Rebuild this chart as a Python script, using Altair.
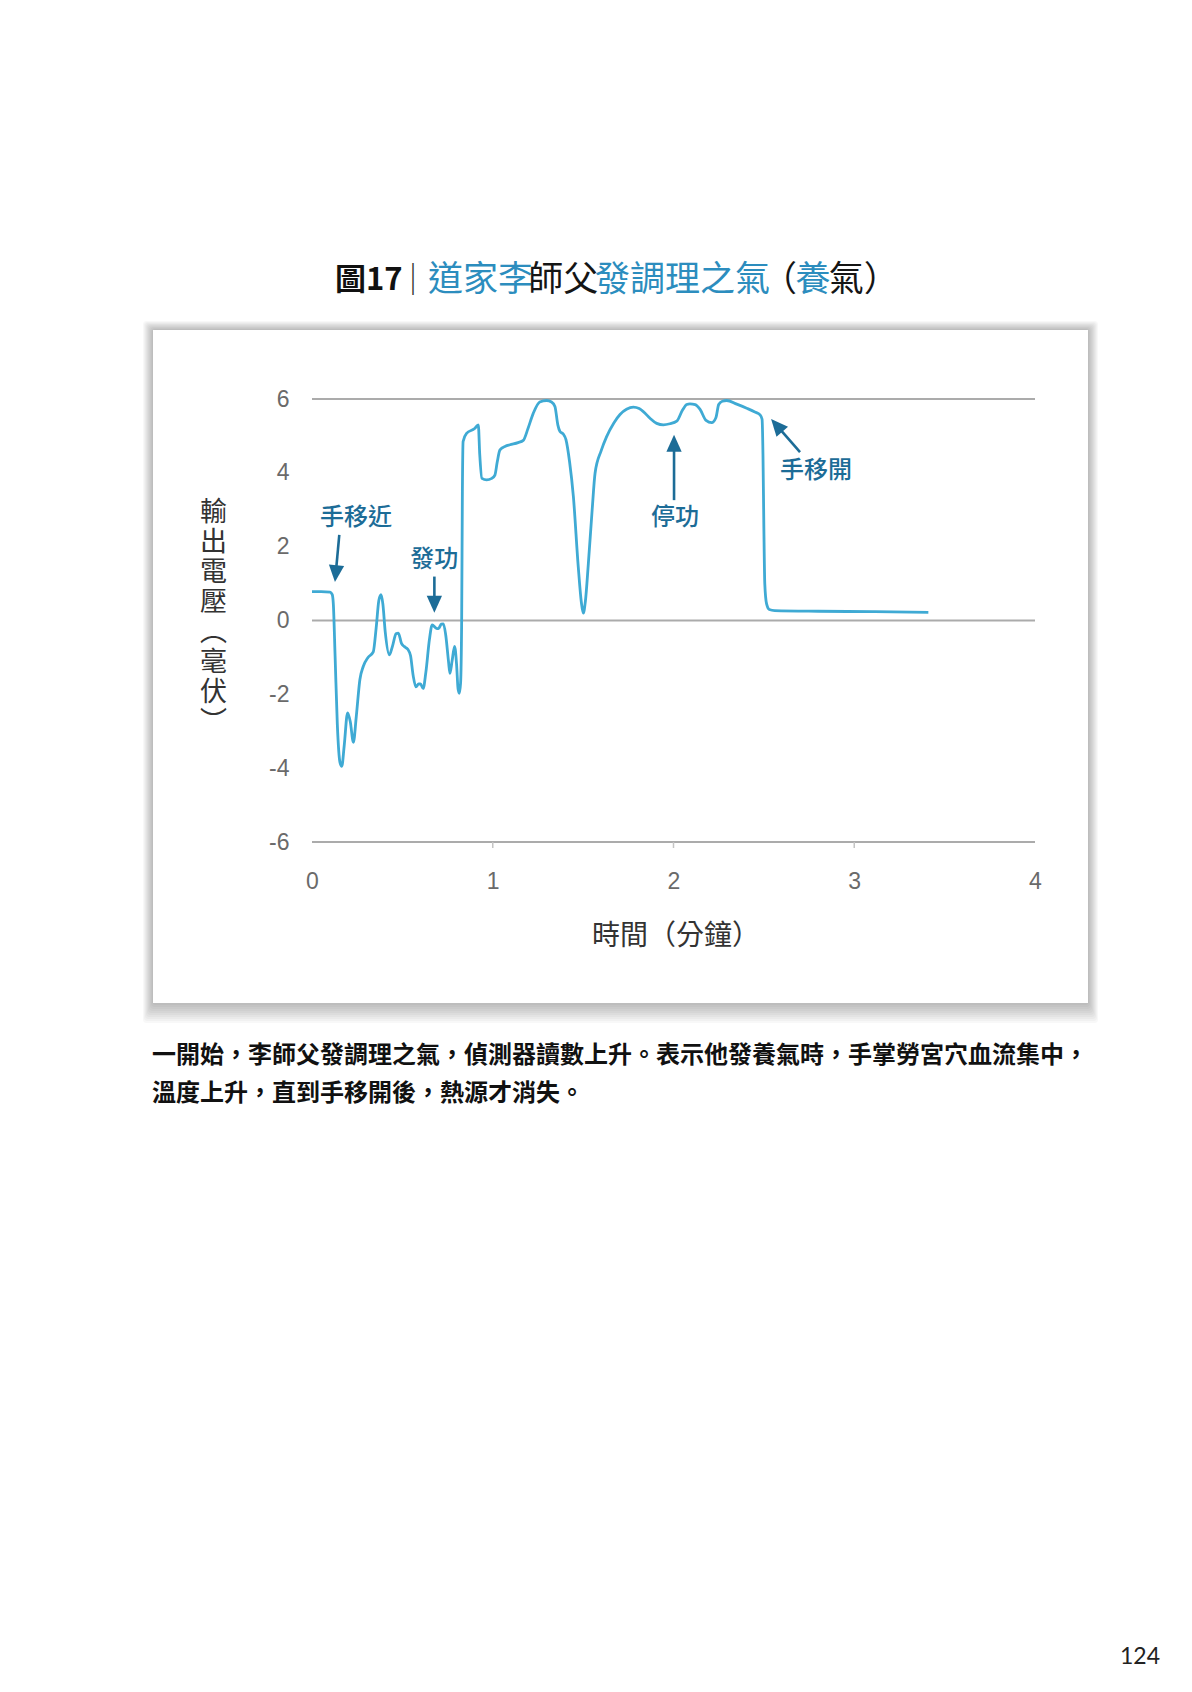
import math
import altair as alt
import pandas as pd

# ---------------- data ----------------
time_min = [0.0, 0.05, 0.10, 0.112, 0.118, 0.128, 0.14, 0.155, 0.165, 0.178, 0.197, 0.212, 0.229,
            0.245, 0.265, 0.284, 0.31, 0.339, 0.355, 0.37, 0.382, 0.392, 0.405, 0.428, 0.445,
            0.465, 0.478, 0.495, 0.509, 0.53, 0.545, 0.56, 0.575, 0.59, 0.60, 0.615, 0.63,
            0.65, 0.665, 0.685, 0.70, 0.715, 0.727, 0.74, 0.755, 0.763, 0.775, 0.789, 0.80,
            0.808, 0.815, 0.822, 0.828, 0.832, 0.836, 0.855, 0.90, 0.92, 0.928, 0.94, 0.966,
            0.995, 1.012, 1.025, 1.04, 1.07, 1.095, 1.14, 1.169, 1.195, 1.224, 1.26, 1.298,
            1.325, 1.344, 1.36, 1.372, 1.39, 1.405, 1.425, 1.446, 1.473, 1.49, 1.501, 1.512,
            1.529, 1.55, 1.566, 1.60, 1.63, 1.67, 1.704, 1.74, 1.778, 1.81, 1.833, 1.87,
            1.907, 1.944, 1.98, 2.018, 2.05, 2.073, 2.091, 2.12, 2.147, 2.18, 2.211, 2.235,
            2.25, 2.27, 2.294, 2.35, 2.405, 2.45, 2.479, 2.49, 2.495, 2.50, 2.505, 2.515,
            2.53, 2.56, 2.8, 3.1, 3.41]
voltage_mv = [0.78, 0.78, 0.77, 0.70, 0.45, -1.0, -2.8, -3.85, -3.95, -3.4, -2.5, -2.75, -3.3,
              -2.6, -1.6, -1.24, -1.0, -0.85, -0.2, 0.55, 0.70, 0.45, -0.3, -0.93, -0.7,
              -0.36, -0.34, -0.62, -0.70, -0.78, -0.95, -1.5, -1.8, -1.72, -1.72, -1.84, -1.4,
              -0.5, -0.12, -0.2, -0.22, -0.1, -0.09, -0.4, -1.1, -1.43, -1.1, -0.7, -1.2,
              -1.85, -1.97, -1.7, 0.0, 3.5, 4.85, 5.07, 5.2, 5.30, 4.5, 3.85, 3.81,
              3.85, 3.94, 4.3, 4.62, 4.72, 4.76, 4.82, 4.88, 5.2, 5.61, 5.92, 5.96,
              5.92, 5.8, 5.3, 5.12, 5.05, 4.9, 4.3, 3.36, 1.46, 0.5, 0.20, 0.5,
              1.55, 3.0, 3.99, 4.6, 4.98, 5.35, 5.58, 5.72, 5.78, 5.74, 5.66, 5.48,
              5.34, 5.30, 5.33, 5.40, 5.7, 5.85, 5.87, 5.85, 5.72, 5.42, 5.36, 5.5,
              5.85, 5.94, 5.96, 5.86, 5.75, 5.65, 5.57, 5.45, 4.5, 2.5, 1.0, 0.45,
              0.30, 0.27, 0.25, 0.24, 0.22]

x_ticks = [0, 1, 2, 3, 4]
x_tick_marks = [1, 2, 3]
y_ticks = [-6, -4, -2, 0, 2, 4, 6]
grid_levels = [6, 0, -6]

ann_text = ["手移近", "發功", "停功", "手移開"]
ann_x = [0.243, 0.677, 2.008, 2.788]
ann_y = [2.78, 1.64, 2.78, 4.06]
arrow_x0 = [0.151, 0.677, 2.003, 2.70]
arrow_y0 = [2.32, 1.19, 3.26, 4.56]
arrow_x1 = [0.127, 0.677, 2.003, 2.54]
arrow_y1 = [1.04, 0.21, 5.03, 5.46]

title_parts = [("道家李", "blue"), ("師父", "black"), ("發調理之氣", "blue"),
               ("（", "black"), ("養", "blue"), ("氣）", "black")]
caption_lines = ["一開始，李師父發調理之氣，偵測器讀數上升。表示他發養氣時，手掌勞宮穴血流集中，",
                 "溫度上升，直到手移開後，熱源才消失。"]
page_number = "124"

# ---------------- layout / style ----------------
W, H = 723, 443
PL, PT = 312, 399            # page position of plot area (top-left)
def px(X): return X - PL
def py(Y): return Y - PT

CJK = "Noto Sans CJK TC"
NUM = "Liberation Sans Narrow, Liberation Sans, Arial, sans-serif"
LINE_C = "#3FAAD4"
ANN_C = "#1C6C97"
TITLE_BLUE = "#2C8DBE"

xs = alt.Scale(domain=[0, 4], nice=False, zero=False)
ys = alt.Scale(domain=[-6, 6], nice=False, zero=False)

one = pd.DataFrame({"d": [0]})

# card with soft shadow
card_layers = []
for k in range(1, 11):
    card_layers.append(
        alt.Chart(one).mark_rect(color="#000000", opacity=0.026, cornerRadius=3).encode(
            x=alt.value(px(153 - k)), x2=alt.value(px(1088 + k)),
            y=alt.value(py(330 - k * 0.9)), y2=alt.value(py(1003 + k * 2.0)))
    )
card = alt.Chart(one).mark_rect(color="#ffffff").encode(
    x=alt.value(px(153)), x2=alt.value(px(1088)),
    y=alt.value(py(330)), y2=alt.value(py(1003)))

df = pd.DataFrame({"t": time_min, "v": voltage_mv})

grid = alt.Chart(pd.DataFrame({"level": grid_levels})).mark_rule(
    color="#ababab", strokeWidth=2.2).encode(y=alt.Y("level:Q", scale=ys))

tick_marks = alt.Chart(pd.DataFrame({"tx": x_tick_marks})).mark_rule(
    color="#c4c4c4", strokeWidth=1.5).encode(
    x=alt.X("tx:Q", scale=xs), y=alt.value(H), y2=alt.value(H + 6))

label_expr = "datum.value < 0 ? '-' + abs(datum.value) : '' + datum.value"

line = alt.Chart(df).mark_line(interpolate="monotone", color=LINE_C, strokeWidth=2.8).encode(
    x=alt.X("t:Q", scale=xs,
            axis=alt.Axis(values=x_ticks, grid=False, domain=False, ticks=False, zindex=2,
                          labelFont=NUM, labelFontSize=23, labelColor="#6a6a6a",
                          labelPadding=28, labelFlush=False, labelOverlap=False,
                          labelExpr=label_expr,
                          title="時間（分鐘）", titleFont=CJK, titleFontSize=28,
                          titleFontWeight="normal", titleColor="#333333",
                          titleX=W / 2 + 2, titleY=94, titleAlign="center",
                          titleBaseline="middle")),
    y=alt.Y("v:Q", scale=ys,
            axis=alt.Axis(values=y_ticks, grid=False, domain=False, ticks=False, zindex=2,
                          labelFont=NUM, labelFontSize=23, labelColor="#6a6a6a",
                          labelPadding=23, labelFlush=False, labelOverlap=False,
                          labelExpr=label_expr,
                          title=["輸", "出", "電", "壓", "︵", "毫", "伏", "︶"],
                          titleAngle=0, titleFont=CJK, titleFontSize=27,
                          titleFontWeight="normal", titleColor="#333333",
                          titleLineHeight=30, titleX=px(213), titleY=py(499),
                          titleAlign="center", titleBaseline="top")),
)

# annotations
ann_df = pd.DataFrame({"label": ann_text, "x": ann_x, "y": ann_y})
ann = alt.Chart(ann_df).mark_text(font=CJK, fontSize=24, fontWeight=500, color=ANN_C,
                                  align="center", baseline="middle").encode(
    x=alt.X("x:Q", scale=xs), y=alt.Y("y:Q", scale=ys), text="label:N")

sx, sy = W / 4.0, H / 12.0
HEAD_R = 8.5
heads_x, heads_y, angles = [], [], []
for x0, y0, x1, y1 in zip(arrow_x0, arrow_y0, arrow_x1, arrow_y1):
    dxp = (x1 - x0) * sx
    dyp = -(y1 - y0) * sy
    n = math.hypot(dxp, dyp)
    ux, uy = dxp / n, dyp / n
    heads_x.append(x1 - ux * HEAD_R / sx)
    heads_y.append(y1 + uy * HEAD_R / sy)
    angles.append(math.degrees(math.atan2(ux, -uy)) % 360)

arr_df = pd.DataFrame({"x0": arrow_x0, "y0": arrow_y0, "hx": heads_x, "hy": heads_y,
                       "ang": angles})
shafts = alt.Chart(arr_df).mark_rule(color=ANN_C, strokeWidth=2.6).encode(
    x=alt.X("x0:Q", scale=xs), y=alt.Y("y0:Q", scale=ys), x2="hx:Q", y2="hy:Q")
heads = alt.Chart(arr_df).mark_point(shape="M0,-1L-0.9,1L0.9,1Z", filled=True, opacity=1,
                                     size=(2 * HEAD_R) ** 2, color=ANN_C, strokeWidth=0).encode(
    x=alt.X("hx:Q", scale=xs), y=alt.Y("hy:Q", scale=ys),
    angle=alt.Angle("ang:Q", scale=None))

# page title (multi-coloured)
title_layers = [
    alt.Chart(one).mark_text(text="圖17", font=CJK, fontSize=31, fontWeight="bold",
                             color="#111111", align="left", baseline="middle").encode(
        x=alt.value(px(335)), y=alt.value(py(281))),
    alt.Chart(one).mark_text(text="｜", font=CJK, fontSize=32, fontWeight="normal",
                             color="#333333", align="center", baseline="middle").encode(
        x=alt.value(px(413)), y=alt.value(py(281))),
]
pos = 0
PITCH = 33.4
for txt, col in title_parts:
    title_layers.append(
        alt.Chart(one).mark_text(text=txt, font=CJK, fontSize=35, fontWeight="normal",
                                 color=TITLE_BLUE if col == "blue" else "#151515",
                                 align="left", baseline="middle").encode(
            x=alt.value(px(428 + pos * PITCH)), y=alt.value(py(280))))
    pos += len(txt)

caption_layers = []
for i, ln in enumerate(caption_lines):
    caption_layers.append(
        alt.Chart(one).mark_text(text=ln, font=CJK, fontSize=24, fontWeight="bold",
                                 color="#111111", align="left", baseline="middle").encode(
            x=alt.value(px(152)), y=alt.value(py(1056 + i * 38))))

page_no = alt.Chart(one).mark_text(text=page_number, font="Lato, Open Sans, sans-serif",
                                   fontSize=23, color="#222222", align="center",
                                   baseline="middle").encode(
    x=alt.value(px(1140)), y=alt.value(py(1657)))

chart = alt.layer(
    *card_layers, card, grid, tick_marks, line, shafts, heads, ann,
    *title_layers, *caption_layers, page_no
).properties(
    width=W, height=H,
    padding={"left": PL - 8, "top": PT - 8, "right": 135, "bottom": 830},
    autosize=alt.AutoSizeParams(type="none"),
    background="#ffffff",
).configure_view(stroke=None)

chart.save("out.html", embed_options={"renderer": "svg", "actions": False})
